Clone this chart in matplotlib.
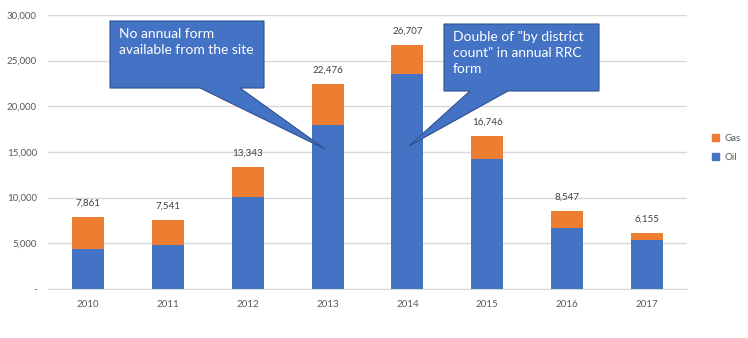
import matplotlib.pyplot as plt
from matplotlib.patches import Polygon, Patch
import numpy as np

# data
years = ['2010', '2011', '2012', '2013', '2014', '2015', '2016', '2017']
totals = [7861, 7541, 13343, 22476, 26707, 16746, 8547, 6155]
oil = [4400, 4800, 10050, 18000, 23550, 14250, 6700, 5400]
gas = [t - o for t, o in zip(totals, oil)]
yticks = [0, 5000, 10000, 15000, 20000, 25000, 30000]

blue = '#4472C4'
orange = '#ED7D31'
grey_txt = '#595959'

plt.rcParams['font.family'] = ['Lato', 'DejaVu Sans']

W, H = 748, 338
fig = plt.figure(figsize=(W / 100, H / 100), dpi=100)
ax = fig.add_axes([48 / W, 1 - 289 / H, 639 / W, 274 / H])

x = np.arange(len(years))
ax.bar(x, oil, width=0.4, color=blue, zorder=3)
ax.bar(x, gas, width=0.4, bottom=oil, color=orange, zorder=3)

for xi, t in zip(x, totals):
    ax.annotate(f'{t:,}', (xi, t), xytext=(0, 10), textcoords='offset points',
                ha='center', va='center', fontsize=7, color='#404040')

ax.set_xlim(-0.5, len(years) - 0.5)
ax.set_ylim(0, 30000)
ax.set_xticks(x)
ax.set_xticklabels(years)
ax.set_yticks(yticks)
ax.set_yticklabels(['-' if v == 0 else f'{v:,}' for v in yticks])
ax.tick_params(length=0, labelsize=7, colors=grey_txt)
ax.tick_params(axis='x', pad=8)
ax.tick_params(axis='y', pad=8)
ax.grid(axis='y', color='#D9D9D9', linewidth=1, zorder=0)
for s in ['top', 'right', 'left']:
    ax.spines[s].set_visible(False)
ax.spines['bottom'].set_color('#D9D9D9')
ax.spines['bottom'].set_zorder(4)

# legend (Gas above Oil)
handles = [Patch(color=orange, label='Gas'), Patch(color=blue, label='Oil')]
fig.legend(handles=handles, loc='center left', bbox_to_anchor=(703 / W, 1 - 148 / H),
           frameon=False, fontsize=7, labelcolor=grey_txt, handlelength=0.7,
           handleheight=0.7, handletextpad=0.6, labelspacing=1.0)


def callout(box, base, tip, text):
    # box: (x0, y0, x1, y1) in pixels from top-left, base: (xa, xb) on bottom edge
    x0, y0, x1, y1 = box
    xa, xb = base
    pts = [(x0, y0), (x1, y0), (x1, y1), (xb, y1), tip, (xa, y1), (x0, y1)]
    pts = [(px / W, 1 - py / H) for px, py in pts]
    fig.patches.append(Polygon(pts, closed=True, transform=fig.transFigure,
                               facecolor=blue, edgecolor='#2F528F', linewidth=0.8))
    fig.text((x0 + 9) / W, 1 - (y0 + 7) / H, text, ha='left', va='top',
             color='white', fontsize=10, linespacing=1.38)


callout((110, 21, 264, 88), (200, 240), (325, 149),
        'No annual form\navailable from the site')
callout((444, 24, 599, 91), (470, 508), (409, 146),
        'Double of "by district\ncount" in annual RRC\nform')

fig.savefig('out.png', dpi=100)
